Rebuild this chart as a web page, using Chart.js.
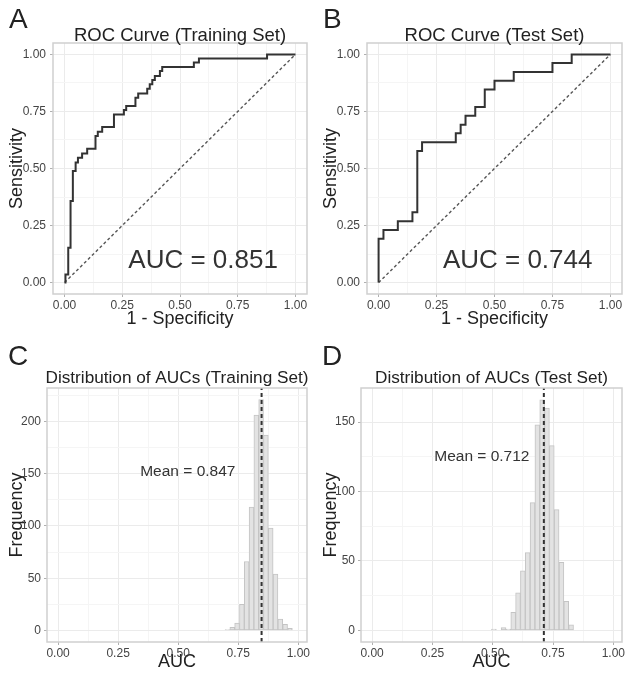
<!DOCTYPE html>
<html>
<head>
<meta charset="utf-8">
<script src="https://cdn.jsdelivr.net/npm/chart.js@4.4.0/dist/chart.umd.min.js"></script>
<style>
html,body{margin:0;padding:0;background:#fff;}
#wrap{position:relative;width:629px;height:679px;overflow:hidden;}
canvas{position:absolute;}
</style>
</head>
<body>
<div id="wrap">
  <canvas id="rocTrain" width="314" height="340" style="left:0;top:0"></canvas>
  <canvas id="rocTest" width="315" height="340" style="left:314px;top:0"></canvas>
  <canvas id="aucTrain" width="314" height="339" style="left:0;top:340px"></canvas>
  <canvas id="aucTest" width="315" height="339" style="left:314px;top:340px"></canvas>
</div>
<script>
// ROC curve, training set: right end of each horizontal step
const trainFpr=[0,0.004,0.016,0.026,0.036,0.048,0.058,0.076,0.098,0.134,0.144,0.163,0.214,0.257,0.267,0.307,0.319,0.358,0.369,0.380,0.391,0.413,0.423,0.560,0.582,0.877,1];
const trainTpr=[0,0,0.036,0.153,0.358,0.489,0.526,0.547,0.566,0.587,0.642,0.661,0.682,0.737,0.756,0.774,0.810,0.829,0.850,0.869,0.888,0.905,0.927,0.945,0.964,0.982,1];
const trainAuc=0.851;

// ROC curve, test set
const testFpr=[0,0.021,0.083,0.146,0.167,0.1875,0.333,0.354,0.375,0.417,0.458,0.5,0.583,0.75,0.833,1];
const testTpr=[0,0.192,0.231,0.269,0.308,0.577,0.615,0.654,0.692,0.731,0.769,0.846,0.885,0.923,0.962,1];
const testAuc=0.744;

// bootstrap AUC histograms (bin centres, counts)
const trainBins=[0.705,0.725,0.745,0.765,0.785,0.805,0.825,0.845,0.865,0.885,0.905,0.925,0.945,0.965];
const trainCounts=[1,3,7,25,66,118,206,221,187,98,54,11,6,2];
const trainMean=0.847;

const testBins=[0.505,0.525,0.545,0.565,0.585,0.605,0.625,0.645,0.665,0.685,0.705,0.725,0.745,0.765,0.785,0.805,0.825];
const testCounts=[1,0,2,1,13,27,43,56,92,148,166,160,133,87,49,21,4];
const testMean=0.712;

// tick values
const unitMajor=[0,0.25,0.5,0.75,1];
const unitMinor=[0.125,0.375,0.625,0.875];
const trainFreqMajor=[0,50,100,150,200];
const trainFreqMinor=[25,75,125,175,225];
const testFreqMajor=[0,50,100,150];
const testFreqMinor=[25,75,125];

const FONT='"Liberation Sans", Arial, Helvetica, sans-serif';
Chart.defaults.font.family=FONT;
Chart.defaults.color='#444';

// border, panel letter, title and the AUC / mean note
const panelText={
  id:'panelText',
  afterDraw(chart,args,o){
    const {ctx,chartArea:a,scales:{x,y}}=chart;
    ctx.save();
    ctx.strokeStyle='#cfcfcf'; ctx.lineWidth=1.5;
    ctx.strokeRect(a.left,a.top,a.right-a.left,a.bottom-a.top);
    ctx.fillStyle='#222';
    ctx.font='28px '+FONT; ctx.textAlign='left'; ctx.textBaseline='alphabetic';
    ctx.fillText(o.letter,o.letterX,o.letterY);
    ctx.font=o.titleSize+'px '+FONT; ctx.textAlign='center'; ctx.textBaseline='middle';
    ctx.fillText(o.title,(a.left+a.right)/2,o.titleY);
    ctx.fillStyle='#333';
    ctx.font=o.noteSize+'px '+FONT;
    ctx.fillText(o.note,x.getPixelForValue(o.noteX),y.getPixelForValue(o.noteY));
    ctx.restore();
  }
};

function axis(min,max,major,minor,fmt,size,pad,title,titlePad){
  const all=major.concat(minor).sort((a,b)=>a-b);
  return {
    type:'linear',min:min,max:max,offset:false,
    afterBuildTicks:s=>{s.ticks=all.map(v=>({value:v}));},
    afterFit:s=>{ if(s.isHorizontal()) s.height=size; else s.width=size; },
    ticks:{autoSkip:false,maxRotation:0,minRotation:0,padding:pad,color:'#444',font:{size:12},
      callback:v=>major.includes(v)?fmt(v):''},
    grid:{tickLength:3,offset:false,
      color:c=>c.tick&&major.includes(c.tick.value)?'#ebebeb':'#f5f5f5',
      tickColor:c=>c.tick&&major.includes(c.tick.value)?'#b0b0b0':'rgba(0,0,0,0)'},
    border:{display:false},
    title:{display:true,text:title,color:'#222',font:{size:18},padding:titlePad}
  };
}

function rocChart(id,fpr,tpr,auc,letter,title){
  new Chart(document.getElementById(id),{
    type:'line',
    data:{datasets:[
      {data:fpr.map((f,i)=>({x:f,y:tpr[i]})),stepped:'after',borderColor:'#333',borderWidth:2,pointRadius:0,fill:false},
      {data:[{x:0,y:0},{x:1,y:1}],borderColor:'#555',borderWidth:1.4,borderDash:[3,2.5],pointRadius:0,fill:false}
    ]},
    options:{
      responsive:false,devicePixelRatio:1,animation:false,
      layout:{padding:{left:0,top:43,right:7,bottom:0}},
      scales:{
        x:axis(-0.05,1.05,unitMajor,unitMinor,v=>v.toFixed(2),46,1,'1 - Specificity',{bottom:10}),
        y:axis(-0.05,1.05,unitMajor,unitMinor,v=>v.toFixed(2),53,4,'Sensitivity',{top:6})
      },
      plugins:{legend:{display:false},tooltip:{enabled:false},
        panelText:{letter:letter,letterX:9,letterY:28,title:title,titleY:35.5,titleSize:18.5,
          note:'AUC = '+auc.toFixed(3),noteX:0.6,noteY:0.095,noteSize:26}}
    },
    plugins:[panelText]
  });
}

function histChart(id,bins,counts,mean,yMin,yMax,major,minor,letter,title,noteX,noteY){
  new Chart(document.getElementById(id),{
    data:{datasets:[
      {type:'line',order:0,data:[{x:mean,y:yMin},{x:mean,y:yMax}],borderColor:'#333',borderWidth:2,borderDash:[4,3],pointRadius:0,fill:false},
      {type:'bar',order:1,data:bins.map((b,i)=>({x:b,y:counts[i]})),backgroundColor:'#e3e3e3',borderColor:'#c4c4c4',
        borderWidth:1,borderSkipped:false,barPercentage:1,categoryPercentage:1,grouped:false}
    ]},
    options:{
      responsive:false,devicePixelRatio:1,animation:false,
      layout:{padding:{left:0,top:48,right:7,bottom:0}},
      scales:{
        x:axis(-0.046,1.036,unitMajor,unitMinor,v=>v.toFixed(2),37,1,'AUC',{bottom:6}),
        y:axis(yMin,yMax,major,minor,v=>String(v),47,3,'Frequency',{top:6})
      },
      plugins:{legend:{display:false},tooltip:{enabled:false},
        panelText:{letter:letter,letterX:8,letterY:25,title:title,titleY:38.7,titleSize:17.2,
          note:'Mean = '+mean.toFixed(3),noteX:noteX,noteY:noteY,noteSize:15.5}}
    },
    plugins:[panelText]
  });
}

rocChart('rocTrain',trainFpr,trainTpr,trainAuc,'A','ROC Curve (Training Set)');
rocChart('rocTest',testFpr,testTpr,testAuc,'B','ROC Curve (Test Set)');
histChart('aucTrain',trainBins,trainCounts,trainMean,-11,232,trainFreqMajor,trainFreqMinor,'C','Distribution of AUCs (Training Set)',0.54,152);
histChart('aucTest',testBins,testCounts,testMean,-8.3,174.5,testFreqMajor,testFreqMinor,'D','Distribution of AUCs (Test Set)',0.455,125);
</script>
</body>
</html>
